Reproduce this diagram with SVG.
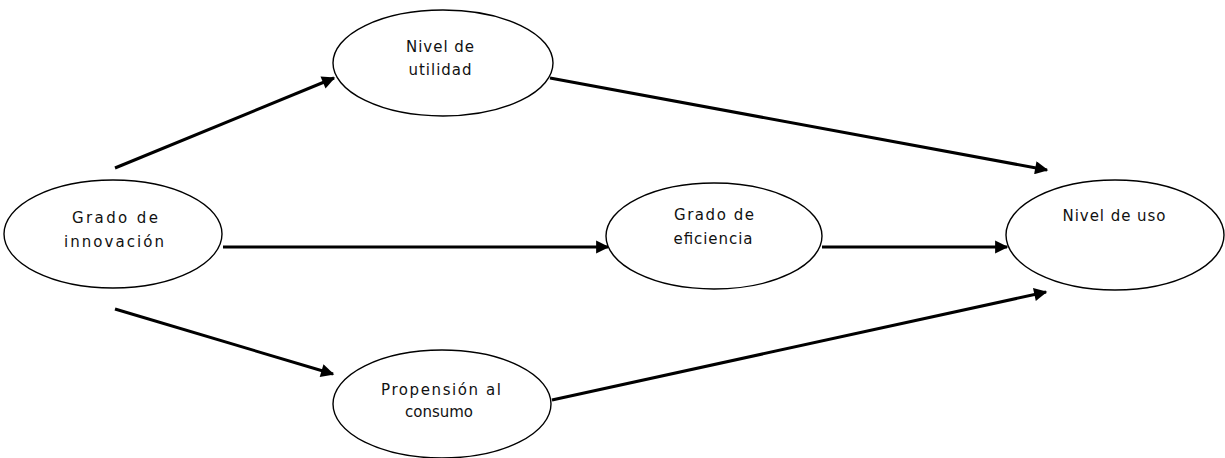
<svg xmlns="http://www.w3.org/2000/svg" width="1225" height="458" viewBox="0 0 1225 458">
<style>
.n{fill:#fff;stroke:#000;stroke-width:1.4}
.t{font-family:"DejaVu Sans",Verdana,sans-serif;font-size:15px;fill:#111;text-anchor:middle}
.e{stroke:#000;stroke-width:3;fill:none;marker-end:url(#ah)}
</style>
<defs>
<marker id="ah" viewBox="0 0 10 10" refX="9" refY="5" markerWidth="5" markerHeight="4.4" orient="auto" markerUnits="strokeWidth">
<path d="M0,0 L10,5 L0,10 z" fill="#000"/>
</marker>
</defs>
<rect width="1225" height="458" fill="#fff"/>
<g id="connectors">
<line class="e" x1="115" y1="168" x2="334" y2="78"/>
<line class="e" x1="550" y1="78" x2="1047" y2="170"/>
<line class="e" x1="223" y1="247" x2="608" y2="247"/>
<line class="e" x1="822" y1="247" x2="1007" y2="247"/>
<line class="e" x1="115" y1="309" x2="333" y2="374"/>
<line class="e" x1="552" y1="400" x2="1046" y2="292"/>
</g>
<g id="innovacion">
<ellipse class="n" cx="113" cy="234" rx="109" ry="54"/>
<text class="t" x="115" y="223" textLength="86" lengthAdjust="spacing">Grado de</text>
<text class="t" x="114" y="247" textLength="100" lengthAdjust="spacing">innovación</text>
</g>
<g id="utilidad">
<ellipse class="n" cx="443" cy="63" rx="110" ry="53"/>
<text class="t" x="440" y="52" textLength="68" lengthAdjust="spacing">Nivel de</text>
<text class="t" x="440" y="75" textLength="63" lengthAdjust="spacing">utilidad</text>
</g>
<g id="eficiencia">
<ellipse class="n" cx="714" cy="236" rx="108" ry="53"/>
<text class="t" x="714" y="220" textLength="80" lengthAdjust="spacing">Grado de</text>
<text class="t" x="713" y="244" textLength="79" lengthAdjust="spacing">eficiencia</text>
</g>
<g id="uso">
<ellipse class="n" cx="1115" cy="235" rx="109" ry="55"/>
<text class="t" x="1114" y="221" textLength="103" lengthAdjust="spacing">Nivel de uso</text>
</g>
<g id="propension">
<ellipse class="n" cx="442" cy="404" rx="109" ry="54"/>
<text class="t" x="441" y="395" textLength="120" lengthAdjust="spacing">Propensión al</text>
<text class="t" x="439" y="417">consumo</text>
</g>
</svg>
